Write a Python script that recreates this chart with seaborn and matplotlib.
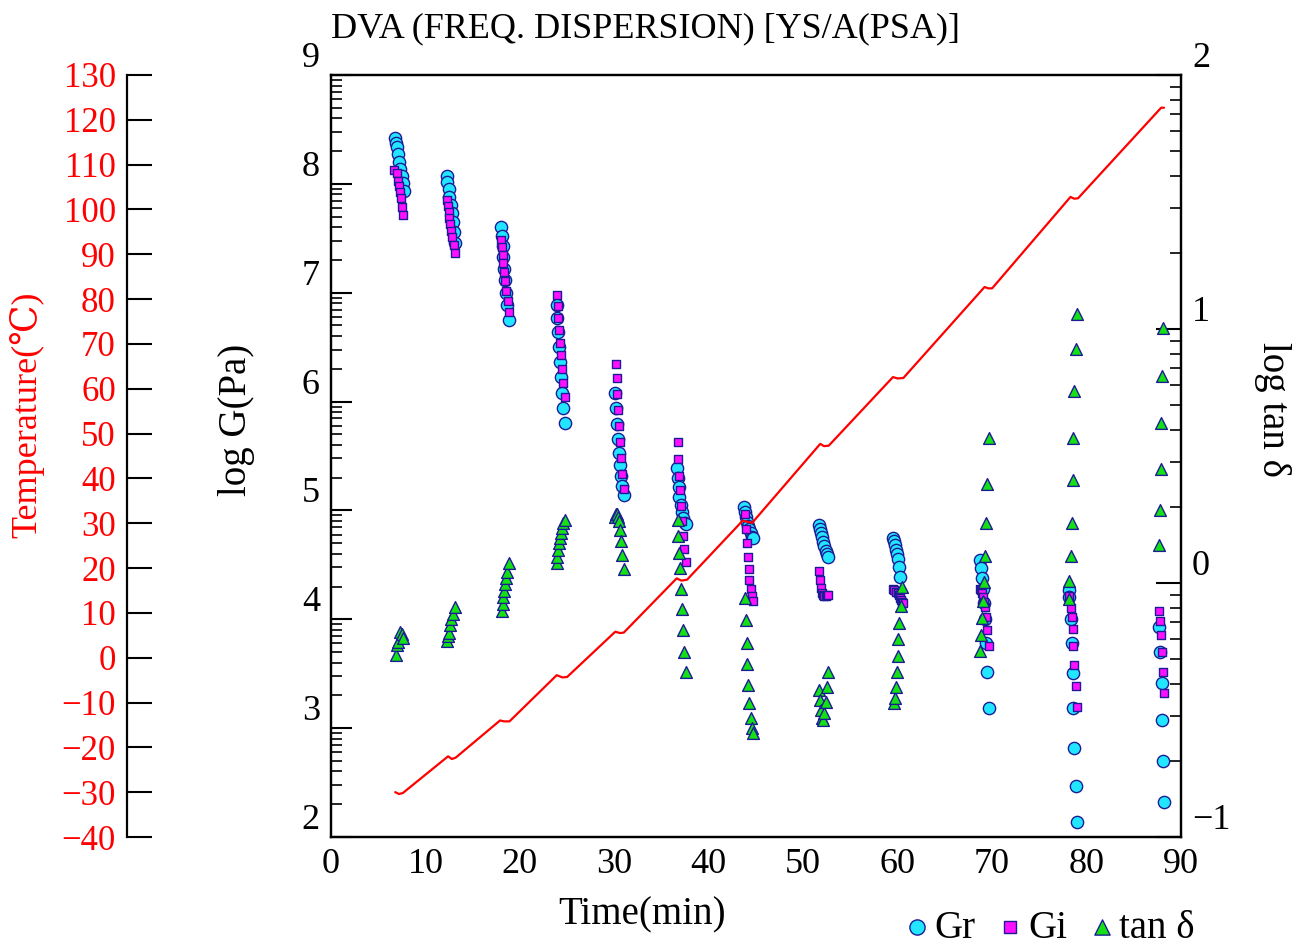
import matplotlib
matplotlib.use("Agg")
import matplotlib.pyplot as plt
import numpy as np
import seaborn as sns

# ---- data (time in min, log values) ----
# Gr (storage part), log G(Pa)
gr_t = [6.78, 6.88, 6.99, 7.09, 7.20, 7.31, 7.52, 7.62, 7.73,
        12.28, 12.28, 12.49, 12.49, 12.71, 12.81, 12.92, 13.02, 13.13,
        18.00, 18.11, 18.21, 18.21, 18.32, 18.42, 18.53, 18.64, 18.85,
        23.93, 23.93, 24.04, 24.14, 24.25, 24.35, 24.46, 24.57, 24.78,
        30.07, 30.18, 30.28, 30.39, 30.49, 30.60, 30.71, 30.81, 31.02,
        36.64, 36.74, 36.85, 36.85, 37.06, 37.17, 37.27, 37.49, 37.59,
        43.73, 43.84, 43.94, 44.05, 44.15, 44.26, 44.47, 44.58, 44.68,
        51.67, 51.77, 51.88, 51.99, 52.09, 52.20, 52.41, 52.52, 52.63,
        59.51, 59.62, 59.72, 59.83, 59.93, 60.04, 60.15, 60.25,
        68.72, 68.83, 68.93, 69.04, 69.15, 69.25, 69.36, 69.46, 69.67,
        78.14, 78.14, 78.36, 78.46, 78.57, 78.57, 78.67, 78.89, 78.99,
        87.67, 87.78, 87.99, 87.99, 88.10, 88.20]
gr_v = [8.42, 8.375, 8.34, 8.275, 8.20, 8.135, 8.07, 8.01, 7.935,
        8.07, 8.02, 7.95, 7.88, 7.805, 7.73, 7.65, 7.56, 7.455,
        7.605, 7.52, 7.43, 7.33, 7.22, 7.115, 7.00, 6.885, 6.75,
        6.885, 6.77, 6.64, 6.50, 6.365, 6.225, 6.08, 5.94, 5.80,
        6.08, 5.94, 5.795, 5.655, 5.53, 5.415, 5.315, 5.225, 5.14,
        5.39, 5.30, 5.215, 5.125, 5.05, 4.985, 4.93, 4.885, 4.875,
        5.03, 4.985, 4.94, 4.895, 4.855, 4.825, 4.79, 4.76, 4.745,
        4.865, 4.83, 4.795, 4.755, 4.71, 4.675, 4.625, 4.60, 4.57,
        4.75, 4.715, 4.68, 4.64, 4.60, 4.555, 4.48, 4.39,
        4.545, 4.47, 4.38, 4.28, 4.15, 4.005, 3.78, 3.515, 3.185,
        4.27, 4.205, 4.005, 3.78, 3.505, 3.185, 2.82, 2.47, 2.14,
        3.93, 3.70, 3.415, 3.075, 2.70, 2.32]

# Gi (loss part), log G(Pa)
gi_t = [6.67, 6.99, 7.09, 7.20, 7.31, 7.41, 7.52, 7.62,
        12.28, 12.39, 12.49, 12.49, 12.60, 12.71, 12.81, 13.02, 13.13,
        18.00, 18.11, 18.21, 18.21, 18.32, 18.42, 18.53, 18.74, 18.85,
        23.93, 24.04, 24.04, 24.14, 24.25, 24.35, 24.46, 24.57, 24.78,
        30.18, 30.28, 30.28, 30.39, 30.49, 30.60, 30.71, 30.81, 31.02,
        36.74, 36.74, 36.85, 36.96, 37.06, 37.17, 37.27, 37.38, 37.59,
        43.84, 43.94, 44.05, 44.15, 44.26, 44.26, 44.47, 44.58, 44.68,
        51.67, 51.77, 51.88, 51.99, 52.09, 52.20, 52.41, 52.52, 52.63,
        59.51, 59.62, 59.83, 60.04, 60.15, 60.25, 60.36, 60.46, 60.57,
        68.72, 68.83, 68.93, 69.04, 69.15, 69.25, 69.36, 69.46, 69.67,
        78.14, 78.14, 78.36, 78.46, 78.57, 78.57, 78.67, 78.89, 78.99,
        87.67, 87.78, 87.88, 87.99, 88.10, 88.20]
gi_v = [8.125, 8.10, 8.025, 7.98, 7.925, 7.87, 7.79, 7.715,
        7.85, 7.795, 7.74, 7.685, 7.63, 7.565, 7.51, 7.44, 7.365,
        7.485, 7.42, 7.345, 7.275, 7.19, 7.11, 7.015, 6.925, 6.825,
        6.98, 6.88, 6.77, 6.66, 6.54, 6.43, 6.30, 6.17, 6.04,
        6.345, 6.215, 6.07, 5.925, 5.775, 5.63, 5.48, 5.335, 5.195,
        5.63, 5.47, 5.315, 5.19, 5.04, 4.905, 4.765, 4.645, 4.525,
        4.965, 4.83, 4.70, 4.57, 4.46, 4.36, 4.28, 4.215, 4.17,
        4.445, 4.36, 4.285, 4.24, 4.22, 4.215, 4.215, 4.22, 4.225,
        4.28, 4.27, 4.255, 4.24, 4.22, 4.20, 4.18, 4.16, 4.15,
        4.275, 4.265, 4.24, 4.205, 4.155, 4.11, 4.02, 3.905, 3.755,
        4.205, 4.21, 4.105, 4.02, 3.91, 3.755, 3.58, 3.39, 3.195,
        4.075, 3.985, 3.855, 3.70, 3.515, 3.325]

# tan delta, log tan
tan_t = [6.88, 6.99, 7.09, 7.31, 7.52, 7.62,
         12.28, 12.39, 12.49, 12.60, 12.71, 12.92, 13.13,
         18.11, 18.21, 18.21, 18.32, 18.42, 18.53, 18.64, 18.85,
         23.93, 23.93, 24.04, 24.14, 24.25, 24.35, 24.46, 24.57, 24.78,
         30.07, 30.18, 30.28, 30.39, 30.49, 30.60, 30.71, 30.81, 31.02,
         36.74, 36.74, 36.85, 36.96, 37.06, 37.17, 37.27, 37.38, 37.59,
         43.84, 43.94, 44.05, 44.05, 44.15, 44.26, 44.47, 44.58, 44.68,
         51.67, 51.77, 51.88, 51.99, 52.09, 52.20, 52.41, 52.52, 52.63,
         59.62, 59.72, 59.83, 59.93, 60.04, 60.04, 60.15, 60.36, 60.46,
         68.72, 68.83, 68.93, 69.04, 69.15, 69.25, 69.36, 69.46, 69.67,
         78.14, 78.14, 78.36, 78.46, 78.57, 78.57, 78.67, 78.89, 78.99,
         87.67, 87.78, 87.88, 87.88, 87.99, 88.10]
tan_v = [-0.283, -0.244, -0.232, -0.193, -0.201, -0.217,
         -0.228, -0.209, -0.197, -0.165, -0.142, -0.122, -0.094,
         -0.110, -0.083, -0.055, -0.031, -0.004, 0.020, 0.043, 0.079,
         0.079, 0.102, 0.130, 0.157, 0.177, 0.197, 0.217, 0.236, 0.248,
         0.26, 0.27, 0.27, 0.26, 0.245, 0.21, 0.165, 0.11, 0.055,
         0.248, 0.185, 0.118, 0.059, -0.024, -0.102, -0.185, -0.272, -0.350,
         -0.059, -0.146, -0.236, -0.319, -0.402, -0.472, -0.531, -0.571, -0.591,
         -0.42, -0.46, -0.50, -0.53, -0.54, -0.51, -0.47, -0.41, -0.35,
         -0.472, -0.453, -0.409, -0.350, -0.287, -0.220, -0.157, -0.091, -0.016,
         -0.268, -0.205, -0.138, -0.071, 0.004, 0.106, 0.236, 0.390, 0.571,
         -0.063, 0.008, 0.106, 0.236, 0.406, 0.571, 0.756, 0.921, 1.059,
         0.150, 0.287, 0.449, 0.630, 0.815, 1.004]

# temperature program (deg C)
temp_t = [6.8, 7.2, 7.6, 12.4, 12.8, 13.2, 17.9, 18.3, 18.9, 23.9, 24.5, 25.0,
          30.1, 30.6, 31.0, 36.6, 37.1, 37.7, 43.6, 44.1, 44.6, 51.8, 52.2, 52.7,
          59.5, 60.0, 60.6, 69.2, 69.6, 70.0, 78.3, 78.7, 79.1, 87.9, 88.2]
temp_v = [-30.0, -30.4, -30.2, -22.0, -22.6, -22.3, -14.0, -14.2, -14.2, -3.9, -4.4, -4.3,
          5.8, 5.5, 5.6, 17.7, 17.2, 17.4, 30.6, 30.3, 30.1, 47.7, 47.2, 47.3,
          62.6, 62.3, 62.4, 82.7, 82.4, 82.4, 102.8, 102.4, 102.5, 122.7, 122.7]

x_ticks = list(range(0, 91, 10))
g_ticks = list(range(2, 10))
tan_ticks = [-1, 0, 1, 2]
temp_ticks = list(range(-40, 131, 10))

# ---- style ----
sns.set_style("white")
plt.rcParams["font.family"] = ["Liberation Serif", "DejaVu Serif"]
plt.rcParams["axes.linewidth"] = 1.6
for key in ("text.color", "axes.labelcolor", "axes.edgecolor", "xtick.color", "ytick.color"):
    plt.rcParams[key] = "black"

edge = "#1c1c96"
W, H = 1304, 946
fig = plt.figure(figsize=(W / 100, H / 100), dpi=100)
ax = fig.add_axes([331 / W, 1 - 837 / H, 850 / W, 762 / H])
ax_tan = ax.twinx()
ax_temp = ax.twinx()

# * markers
sns.scatterplot(x=gr_t, y=gr_v, ax=ax, marker="o", s=78, color="#22e6ff",
                edgecolor=edge, linewidth=1.0, label="Gr", zorder=3)
sns.scatterplot(x=gi_t, y=gi_v, ax=ax, marker="s", s=40, color="#ff10ff",
                edgecolor=edge, linewidth=1.0, label="Gi", zorder=4)
sns.scatterplot(x=tan_t, y=tan_v, ax=ax_tan, marker="^", s=72, color="#14e014",
                edgecolor=edge, linewidth=1.0, label="tan δ", zorder=3)
sns.lineplot(x=temp_t, y=temp_v, ax=ax_temp, color="red", linewidth=1.6,
             sort=False, estimator=None)
for a in (ax, ax_tan, ax_temp):
    if a.get_legend() is not None:
        a.get_legend().remove()

# * main axis (log G)
ax.set_xlim(0, 90)
ax.set_ylim(2, 9)
ax.set_xticks(x_ticks)
ax.set_yticks(g_ticks)
ax.set_yticks([n + np.log10(k) for n in g_ticks[:-1] for k in range(2, 10)], minor=True)
ax.tick_params(axis="both", which="major", direction="in", length=15, width=1.5,
               labelsize=26, pad=8, top=False, right=False)
ax.tick_params(axis="y", which="minor", direction="in", length=8, width=1.2)
for lbl in ax.get_yticklabels():
    lbl.set_va("bottom")
ax.set_xlabel("Time(min)", fontsize=28, va="center")
ax.xaxis.set_label_coords((642 - 331) / 850, (837 - 915) / 762)
ax.set_ylabel("log G(Pa)", fontsize=28, va="center")
ax.yaxis.set_label_coords((237 - 331) / 850, (837 - 420) / 762)
ax.set_title("DVA (FREQ. DISPERSION) [YS/A(PSA)]", loc="left", fontsize=26, pad=27)

# * right axis (log tan)
ax_tan.set_ylim(-1, 2)
ax_tan.set_yticks(tan_ticks)
ax_tan.set_yticks([n + np.log10(k) for n in tan_ticks[:-1] for k in range(2, 10)], minor=True)
ax_tan.tick_params(axis="y", which="major", direction="in", length=18, width=1.5,
                   labelsize=26, pad=8)
ax_tan.tick_params(axis="y", which="minor", direction="in", length=8, width=1.2)
for lbl in ax_tan.get_yticklabels():
    lbl.set_va("bottom")
ax_tan.set_ylabel("log tan δ", fontsize=28, rotation=270, va="center")
ax_tan.yaxis.set_label_coords((1272 - 331) / 850, (837 - 410) / 762)

# * temperature axis on the far left
ax_temp.set_ylim(-40, 130)
ax_temp.set_yticks(temp_ticks)
ax_temp.yaxis.set_ticks_position("left")
ax_temp.yaxis.set_label_position("left")
for side in ("right", "top", "bottom"):
    ax_temp.spines[side].set_visible(False)
ax_temp.spines["left"].set_visible(True)
ax_temp.spines["left"].set_position(("axes", (127 - 331) / 850))
ax_temp.tick_params(axis="y", direction="in", length=18, width=1.5, labelsize=25,
                    labelcolor="red", pad=8)
ax_temp.set_ylabel("Temperature(℃)", fontsize=26, color="red", va="center")
ax_temp.yaxis.set_label_coords((27 - 331) / 850, (837 - 415) / 762)

# * legend under the plot, right side
h1, l1 = ax.get_legend_handles_labels()
h2, l2 = ax_tan.get_legend_handles_labels()
leg = fig.legend(h1 + h2, l1 + l2, loc="center right", bbox_to_anchor=(1195 / W, 1 - 928 / H),
                 ncol=3, frameon=False, fontsize=28, handletextpad=0.05, columnspacing=0.5,
                 handlelength=0.8, borderaxespad=0, borderpad=0)
for handle, size in zip(leg.legend_handles, (120, 80, 120)):
    handle.set_sizes([size])

fig.savefig("out.png", dpi=100)
